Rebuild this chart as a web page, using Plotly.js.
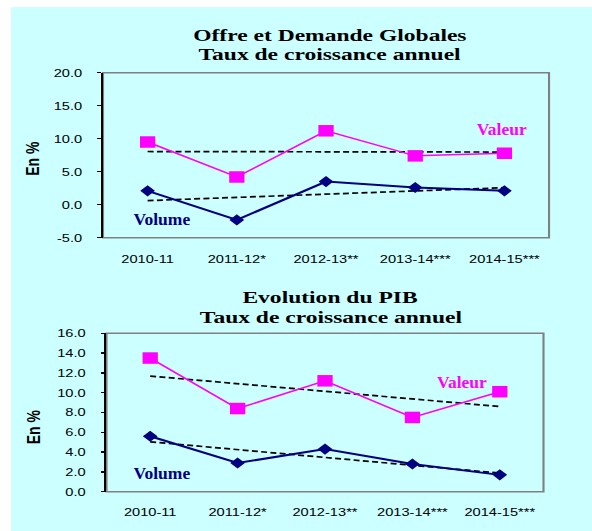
<!DOCTYPE html>
<html>
<head>
<meta charset="utf-8">
<script src="https://cdn.plot.ly/plotly-3.0.1.min.js"></script>
<style>
  html, body { margin: 0; padding: 0; background: #ffffff; overflow: hidden; width: 592px; height: 531px; }
  #chart { position: absolute; left: 11px; top: 7px; width: 437px; height: 524px;
           transform: scaleX(1.33); transform-origin: 0 0; }
</style>
</head>
<body>
<div id="chart"></div>
<script>
// ---- data ----
const categories = ['2010-11', '2011-12*', '2012-13**', '2013-14***', '2014-15***'];
const odgValeur = [9.5, 4.2, 11.2, 7.4, 7.8];
const odgVolume = [2.1, -2.3, 3.5, 2.6, 2.1];
const pibValeur = [13.5, 8.4, 11.2, 7.5, 10.1];
const pibVolume = [5.6, 2.9, 4.3, 2.8, 1.7];
const odgTicks = [-5, 0, 5, 10, 15, 20];
const pibTicks = [0, 2, 4, 6, 8, 10, 12, 14, 16];
const titleTop = ['Offre et Demande Globales', 'Taux de croissance annuel'];
const titleBottom = ['Evolution du PIB', 'Taux de croissance annuel'];
const yTitle = 'En %';
const labelValeur = 'Valeur';
const labelVolume = 'Volume';

// linear trendline (least squares), as in the spreadsheet chart
function trend(vals) {
  const n = vals.length;
  const xs = vals.map((_, i) => i + 1);
  const mx = xs.reduce((a, b) => a + b, 0) / n;
  const my = vals.reduce((a, b) => a + b, 0) / n;
  let num = 0, den = 0;
  xs.forEach((x, i) => { num += (x - mx) * (vals[i] - my); den += (x - mx) * (x - mx); });
  const b = num / den, a = my - b * mx;
  return xs.map(x => a + b * x);
}

const MAG = '#FF00FF', NAVY = '#000080';
const dashStyle = { color: '#000000', width: 1.7, dash: '4.5px,2.5px' };

function series(y, xa, ya, kind) {
  const isVal = kind === 'val';
  return {
    x: categories, y: y, xaxis: xa, yaxis: ya, type: 'scatter', mode: 'lines+markers',
    line: { color: isVal ? MAG : NAVY, width: isVal ? 1.5 : 2 },
    marker: { symbol: isVal ? 'square' : 'diamond', size: isVal ? 11.5 : 8.5, color: isVal ? MAG : NAVY },
    hoverinfo: 'skip', showlegend: false, cliponaxis: false
  };
}
function trendTrace(y, xa, ya) {
  return { x: categories, y: trend(y), xaxis: xa, yaxis: ya, type: 'scatter', mode: 'lines',
           line: dashStyle, hoverinfo: 'skip', showlegend: false };
}

const data = [
  trendTrace(odgValeur, 'x', 'y'), trendTrace(odgVolume, 'x', 'y'),
  series(odgValeur, 'x', 'y', 'val'), series(odgVolume, 'x', 'y', 'vol'),
  trendTrace(pibValeur, 'x2', 'y2'), trendTrace(pibVolume, 'x2', 'y2'),
  series(pibValeur, 'x2', 'y2', 'val'), series(pibVolume, 'x2', 'y2', 'vol')
];

const tickFont = { family: 'Liberation Sans, Arial, sans-serif', size: 11, color: '#000000' };
function xAxis(domain, anchor, standoff) {
  return { domain: domain, anchor: anchor, type: 'category', range: [-0.5, 4.5],
           showline: false, showgrid: false, zeroline: false, ticks: '', tickfont: tickFont,
           ticklabelstandoff: standoff, fixedrange: true };
}
function yAxis(domain, anchor, ticks) {
  return { domain: domain, anchor: anchor, range: [ticks[0], ticks[ticks.length - 1]],
           tickmode: 'array', tickvals: ticks, ticktext: ticks.map(v => v.toFixed(1)),
           showline: true, linecolor: '#000000', linewidth: 1.5,
           ticks: 'outside', ticklen: 3, tickwidth: 1.5, tickcolor: '#000000',
           showgrid: false, zeroline: false, tickfont: tickFont, ticklabelstandoff: 9,
           fixedrange: true };
}

const serif = 'Liberation Serif, Times New Roman, serif';
const sans = 'Liberation Sans, Arial, sans-serif';
function ann(text, x, y, font, extra) {
  return Object.assign({ text: text, xref: 'paper', yref: 'paper', x: x, y: y,
    xanchor: 'center', yanchor: 'middle', showarrow: false, font: font }, extra || {});
}
const titleFont = { family: serif, size: 17.7, color: '#000000', weight: 'bold' };
const magFont = { family: serif, size: 17.5, color: MAG, weight: 'bold' };
const navyFont = { family: serif, size: 17.5, color: NAVY, weight: 'bold' };
const yTitleFont = { family: sans, size: 14, color: '#000000', weight: 'bold' };

const layout = {
  width: 437, height: 524,
  margin: { l: 0, r: 0, t: 0, b: 0 },
  paper_bgcolor: '#CCFFFF', plot_bgcolor: 'rgba(0,0,0,0)',
  showlegend: false,
  xaxis: xAxis([0.1583, 0.9257], 'y', 13),
  yaxis: yAxis([0.5597, 0.8746], 'x', odgTicks),
  xaxis2: xAxis([0.1643, 0.9162], 'y2', 12),
  yaxis2: yAxis([0.0750, 0.3773], 'x2', pibTicks),
  shapes: [
    { type: 'rect', xref: 'x domain', yref: 'y domain', x0: 0, x1: 1, y0: 0, y1: 1,
      line: { color: '#808080', width: 1.6 }, layer: 'below' },
    { type: 'rect', xref: 'x2 domain', yref: 'y2 domain', x0: 0, x1: 1, y0: 0, y1: 1,
      line: { color: '#808080', width: 1.6 }, layer: 'below' }
  ],
  annotations: [
    ann(titleTop[0], 0.549, 0.9466, titleFont),
    ann(titleTop[1], 0.549, 0.9103, titleFont),
    ann(titleBottom[0], 0.550, 0.4471, titleFont),
    ann(titleBottom[1], 0.550, 0.4090, titleFont),
    ann(labelValeur, 0.8451, 0.7681, magFont),
    ann(labelVolume, 0.2607, 0.5948, navyFont),
    ann(labelValeur, 0.7755, 0.2849, magFont),
    ann(labelVolume, 0.2593, 0.1113, navyFont),
    ann(yTitle, 0.0378, 0.7113, yTitleFont, { textangle: -90 }),
    ann(yTitle, 0.0378, 0.1990, yTitleFont, { textangle: -90 })
  ]
};

Plotly.newPlot('chart', data, layout, { staticPlot: true, displayModeBar: false }).then(function () {
  // the series labels in the reference are not horizontally stretched: undo the page stretch for them
  document.querySelectorAll('#chart .annotation-text').forEach(function (t) {
    const s = t.textContent;
    if (s === labelValeur || s === labelVolume) {
      t.style.transformBox = 'fill-box';
      t.style.transformOrigin = 'center';
      t.style.transform = 'scaleX(0.752)';
    }
  });
});
</script>
</body>
</html>
